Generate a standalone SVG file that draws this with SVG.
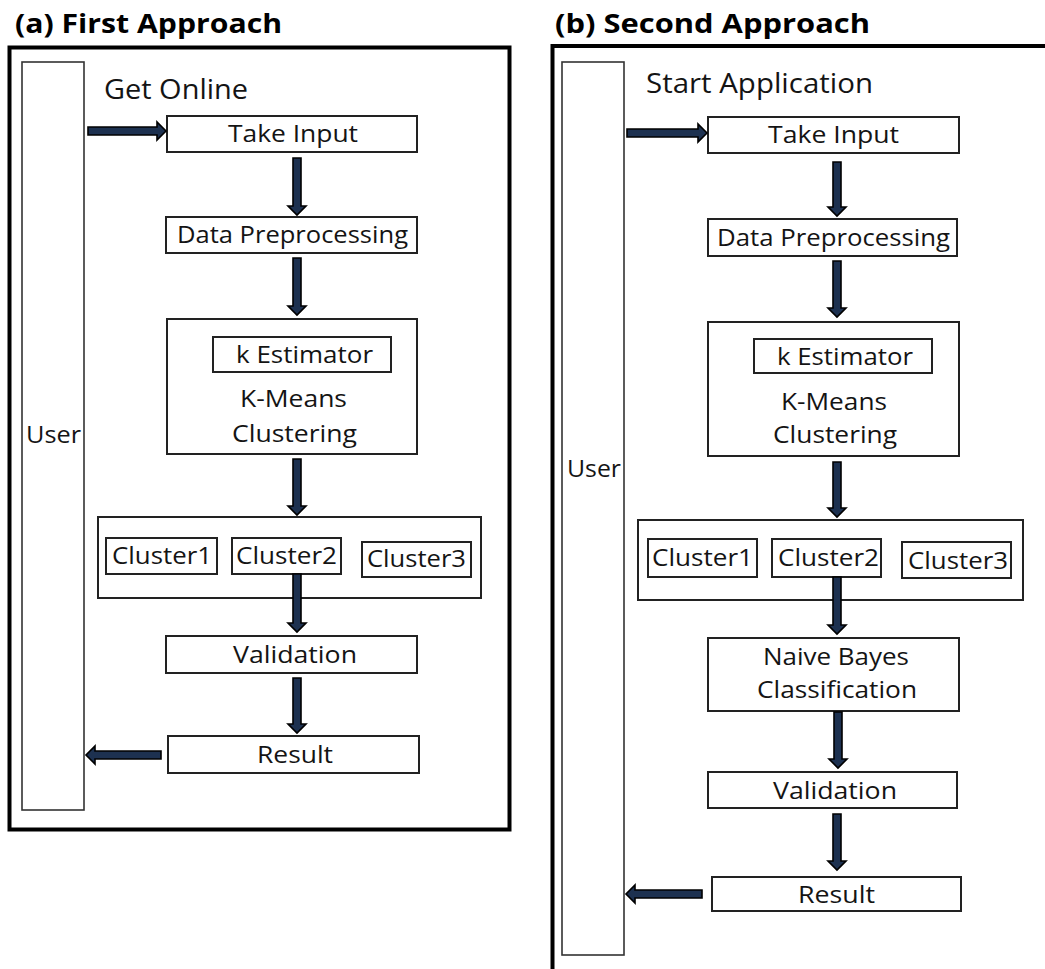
<svg xmlns="http://www.w3.org/2000/svg" width="1045" height="969" viewBox="0 0 1045 969">
  <style>
    .frame { fill: none; stroke: #000; stroke-width: 4; }
    .lane { fill: #fff; stroke: #333; stroke-width: 1.6; }
    .box { fill: #fff; stroke: #222; stroke-width: 2; }
    .arrow { fill: #1d3150; stroke: #000; stroke-width: 1.6; stroke-linejoin: miter; }
    text { font-family: "Open Sans", "Liberation Sans", sans-serif; fill: #141414; }
    .lbl { font-size: 24px; }
    .cap { font-size: 28px; }
    .title { font-size: 27px; font-weight: bold; fill: #000; }
  </style>

  <!-- Panel (a) -->
  <g id="panel-a">
    <text class="title" x="15" y="33" textLength="267" lengthAdjust="spacingAndGlyphs">(a) First Approach</text>
    <rect class="frame" x="9.5" y="47.5" width="500" height="782"/>
  </g>
  <g id="a-user">
    <rect class="lane" x="22" y="62" width="62" height="748"/>
    <text class="lbl" x="26" y="443" textLength="55" lengthAdjust="spacingAndGlyphs">User</text>
  </g>
  <g id="a-start">
    <text class="cap" x="104" y="99" textLength="144" lengthAdjust="spacingAndGlyphs">Get Online</text>
  </g>
  <g id="a-input">
    <rect class="box" x="167" y="116" width="250" height="36"/>
    <text class="lbl" x="228" y="142" textLength="130" lengthAdjust="spacingAndGlyphs">Take Input</text>
  </g>
  <g id="a-prep">
    <rect class="box" x="166" y="217" width="251" height="36"/>
    <text class="lbl" x="177" y="243" textLength="231" lengthAdjust="spacingAndGlyphs">Data Preprocessing</text>
  </g>
  <g id="a-kmeans">
    <rect class="box" x="167" y="319" width="250" height="135"/>
    <rect class="box" x="213" y="337" width="178" height="35"/>
    <text class="lbl" x="236" y="363" textLength="137" lengthAdjust="spacingAndGlyphs">k Estimator</text>
    <text class="lbl" x="240" y="407" textLength="107" lengthAdjust="spacingAndGlyphs">K-Means</text>
    <text class="lbl" x="232" y="442" textLength="125" lengthAdjust="spacingAndGlyphs">Clustering</text>
  </g>
  <g id="a-clusters">
    <rect class="box" x="98" y="517" width="383" height="81"/>
    <rect class="box" x="106" y="538" width="111" height="36"/>
    <text class="lbl" x="112" y="564" textLength="100" lengthAdjust="spacingAndGlyphs">Cluster1</text>
    <rect class="box" x="232" y="538" width="109" height="36"/>
    <text class="lbl" x="236" y="564" textLength="101" lengthAdjust="spacingAndGlyphs">Cluster2</text>
    <rect class="box" x="362" y="542" width="109" height="35"/>
    <text class="lbl" x="367" y="567" textLength="99" lengthAdjust="spacingAndGlyphs">Cluster3</text>
  </g>
  <g id="a-validation">
    <rect class="box" x="166" y="636" width="251" height="37"/>
    <text class="lbl" x="233" y="663" textLength="124" lengthAdjust="spacingAndGlyphs">Validation</text>
  </g>
  <g id="a-result">
    <rect class="box" x="168" y="736" width="251" height="37"/>
    <text class="lbl" x="257" y="763" textLength="76" lengthAdjust="spacingAndGlyphs">Result</text>
  </g>

  <!-- Panel (b) -->
  <g id="panel-b">
    <text class="title" x="555" y="33" textLength="315" lengthAdjust="spacingAndGlyphs">(b) Second Approach</text>
    <rect class="frame" x="552.5" y="46" width="520" height="950"/>
  </g>
  <g id="b-user">
    <rect class="lane" x="562" y="62" width="62" height="893"/>
    <text class="lbl" x="567" y="477" textLength="54" lengthAdjust="spacingAndGlyphs">User</text>
  </g>
  <g id="b-start">
    <text class="cap" x="646" y="93" textLength="227" lengthAdjust="spacingAndGlyphs">Start Application</text>
  </g>
  <g id="b-input">
    <rect class="box" x="708" y="117" width="251" height="36"/>
    <text class="lbl" x="768" y="143" textLength="131" lengthAdjust="spacingAndGlyphs">Take Input</text>
  </g>
  <g id="b-prep">
    <rect class="box" x="708" y="219" width="249" height="37"/>
    <text class="lbl" x="717" y="246" textLength="233" lengthAdjust="spacingAndGlyphs">Data Preprocessing</text>
  </g>
  <g id="b-kmeans">
    <rect class="box" x="708" y="322" width="251" height="134"/>
    <rect class="box" x="754" y="339" width="178" height="34"/>
    <text class="lbl" x="777" y="365" textLength="136" lengthAdjust="spacingAndGlyphs">k Estimator</text>
    <text class="lbl" x="781" y="410" textLength="106" lengthAdjust="spacingAndGlyphs">K-Means</text>
    <text class="lbl" x="773" y="443" textLength="124" lengthAdjust="spacingAndGlyphs">Clustering</text>
  </g>
  <g id="b-clusters">
    <rect class="box" x="638" y="520" width="385" height="80"/>
    <rect class="box" x="648" y="539" width="109" height="38"/>
    <text class="lbl" x="652" y="566" textLength="101" lengthAdjust="spacingAndGlyphs">Cluster1</text>
    <rect class="box" x="772" y="539" width="109" height="38"/>
    <text class="lbl" x="778" y="566" textLength="101" lengthAdjust="spacingAndGlyphs">Cluster2</text>
    <rect class="box" x="902" y="542" width="109" height="36"/>
    <text class="lbl" x="908" y="569" textLength="100" lengthAdjust="spacingAndGlyphs">Cluster3</text>
  </g>
  <g id="b-bayes">
    <rect class="box" x="708" y="638" width="251" height="73"/>
    <text class="lbl" x="763" y="665" textLength="146" lengthAdjust="spacingAndGlyphs">Naive Bayes</text>
    <text class="lbl" x="757" y="698" textLength="160" lengthAdjust="spacingAndGlyphs">Classification</text>
  </g>
  <g id="b-validation">
    <rect class="box" x="708" y="772" width="249" height="36"/>
    <text class="lbl" x="773" y="799" textLength="124" lengthAdjust="spacingAndGlyphs">Validation</text>
  </g>
  <g id="b-result">
    <rect class="box" x="712" y="877" width="249" height="34"/>
    <text class="lbl" x="798" y="903" textLength="77" lengthAdjust="spacingAndGlyphs">Result</text>
  </g>

  <!-- Block arrows: shaft half-width 4, head half-width 9, head length 9 -->
  <g id="connectors">
    <!-- panel (a) -->
    <path class="arrow" d="M88,127 H157 V122 L166,131 L157,140 V135 H88 Z"/>
    <path class="arrow" d="M293,158 H301 V206 H306 L297,215 L288,206 H293 Z"/>
    <path class="arrow" d="M293,258 H301 V306 H306 L297,315 L288,306 H293 Z"/>
    <path class="arrow" d="M293,459 H301 V506 H306 L297,515 L288,506 H293 Z"/>
    <path class="arrow" d="M293,574 H301 V623 H306 L297,632 L288,623 H293 Z"/>
    <path class="arrow" d="M293,678 H301 V724 H306 L297,733 L288,724 H293 Z"/>
    <path class="arrow" d="M161,751 H95 V746 L86,755 L95,764 V759 H161 Z"/>
    <!-- panel (b) -->
    <path class="arrow" d="M627,129 H698 V124 L707,133 L698,142 V137 H627 Z"/>
    <path class="arrow" d="M833,162 H841 V207 H846 L837,216 L828,207 H833 Z"/>
    <path class="arrow" d="M833,261 H841 V308 H846 L837,317 L828,308 H833 Z"/>
    <path class="arrow" d="M833,462 H841 V508 H846 L837,517 L828,508 H833 Z"/>
    <path class="arrow" d="M833,577 H841 V625 H846 L837,634 L828,625 H833 Z"/>
    <path class="arrow" d="M834,712 H842 V759 H847 L838,768 L829,759 H834 Z"/>
    <path class="arrow" d="M833,814 H841 V861 H846 L837,870 L828,861 H833 Z"/>
    <path class="arrow" d="M702,890 H635 V885 L626,894 L635,903 V898 H702 Z"/>
  </g>
</svg>
